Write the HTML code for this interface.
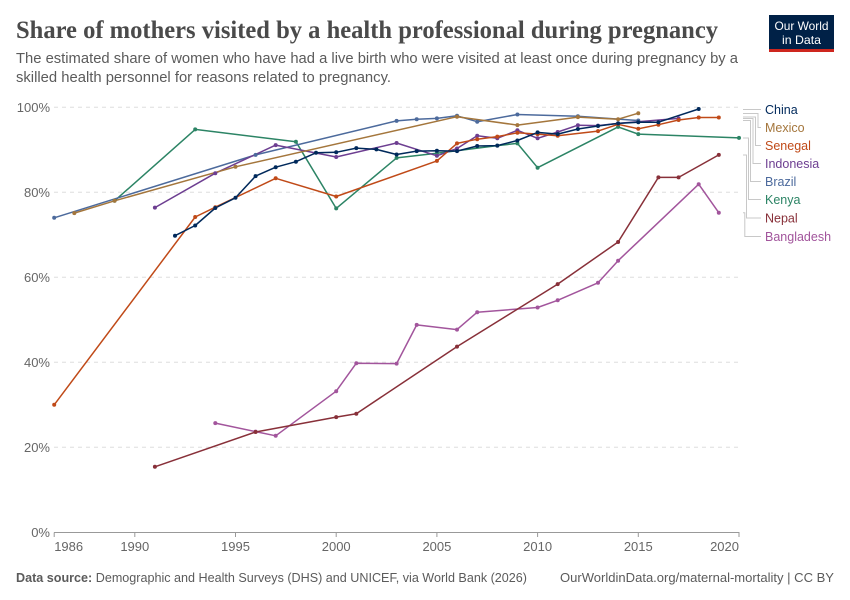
<!DOCTYPE html>
<html>
<head>
<meta charset="utf-8">
<style>
  html,body{margin:0;padding:0;background:#fff;}
  svg{display:block;}
  text{font-family:"Liberation Sans",Arial,sans-serif;}
</style>
</head>
<body>
<svg width="850" height="600" viewBox="0 0 850 600" xmlns="http://www.w3.org/2000/svg">
  <rect x="0" y="0" width="850" height="600" fill="#fff"/>

  <!-- Title -->
  <text x="16" y="38" style="font-family:'Liberation Serif','Times New Roman',serif;font-weight:bold;font-size:25px" fill="#4a4a4a" textLength="702" lengthAdjust="spacingAndGlyphs">Share of mothers visited by a health professional during pregnancy</text>
  <!-- Subtitle -->
  <text x="16" y="63" font-size="14.5" fill="#5b5b5b" textLength="722" lengthAdjust="spacingAndGlyphs">The estimated share of women who have had a live birth who were visited at least once during pregnancy by a</text>
  <text x="16" y="82" font-size="14.5" fill="#5b5b5b" textLength="375" lengthAdjust="spacingAndGlyphs">skilled health personnel for reasons related to pregnancy.</text>

  <!-- Logo -->
  <rect x="769" y="15" width="65" height="37" fill="#002147"/>
  <rect x="769" y="49" width="65" height="3" fill="#ce261e"/>
  <text x="801.5" y="30" font-size="12" fill="#fff" text-anchor="middle" textLength="54" lengthAdjust="spacingAndGlyphs">Our World</text>
  <text x="801.5" y="44" font-size="12" fill="#fff" text-anchor="middle" textLength="39" lengthAdjust="spacingAndGlyphs">in Data</text>

  <!-- Gridlines -->
  <g stroke="#dddddd" stroke-width="1" stroke-dasharray="4,4">
    <line x1="54" y1="107.3" x2="739" y2="107.3"/>
    <line x1="54" y1="192.3" x2="739" y2="192.3"/>
    <line x1="54" y1="277.3" x2="739" y2="277.3"/>
    <line x1="54" y1="362.3" x2="739" y2="362.3"/>
    <line x1="54" y1="447.3" x2="739" y2="447.3"/>
  </g>
  <!-- Y labels -->
  <g font-size="13" fill="#666" text-anchor="end">
    <text x="50" y="112">100%</text>
    <text x="50" y="197">80%</text>
    <text x="50" y="282">60%</text>
    <text x="50" y="367">40%</text>
    <text x="50" y="452">20%</text>
    <text x="50" y="537">0%</text>
  </g>
  <!-- X axis -->
  <line x1="54" y1="532.5" x2="739.5" y2="532.5" stroke="#999" stroke-width="1"/>
  <g stroke="#999" stroke-width="1">
    <line x1="54.2" y1="532.5" x2="54.2" y2="537"/>
    <line x1="134.8" y1="532.5" x2="134.8" y2="537"/>
    <line x1="235.5" y1="532.5" x2="235.5" y2="537"/>
    <line x1="336.2" y1="532.5" x2="336.2" y2="537"/>
    <line x1="436.9" y1="532.5" x2="436.9" y2="537"/>
    <line x1="537.6" y1="532.5" x2="537.6" y2="537"/>
    <line x1="638.3" y1="532.5" x2="638.3" y2="537"/>
    <line x1="739" y1="532.5" x2="739" y2="537"/>
  </g>
  <g font-size="13" fill="#666" text-anchor="middle">
    <text x="54.2" y="551" text-anchor="start">1986</text>
    <text x="134.8" y="551">1990</text>
    <text x="235.5" y="551">1995</text>
    <text x="336.2" y="551">2000</text>
    <text x="436.9" y="551">2005</text>
    <text x="537.6" y="551">2010</text>
    <text x="638.3" y="551">2015</text>
    <text x="739" y="551" text-anchor="end">2020</text>
  </g>

  <!-- Series -->
  <g fill="none" stroke-width="1.5" stroke-linejoin="round">
    <polyline stroke="#a2559c" points="215.3,423.1 255.6,431.6 275.7,435.8 336.2,391.2 356.3,363.2 396.6,363.6 416.7,324.9 457,329.6 477.2,312.2 537.6,307.5 557.7,300.3 598,282.8 618.1,260.7 698.7,184.2 718.8,212.7"/>
    <polyline stroke="#883039" points="154.9,466.8 255.6,432 336.2,417.1 356.3,413.7 457,346.6 557.7,284.1 618.1,242 658.4,177.4 678.6,177.4 718.8,154.9"/>
    <polyline stroke="#2c8465" points="114.6,200.8 195.2,129.4 295.9,141.7 336.2,208.4 396.6,157.9 436.9,153.2 497.3,145.6 517.4,143.4 537.6,167.7 618.1,126.9 638.3,134.1 739,137.9"/>
    <polyline stroke="#4c6a9c" points="54.2,217.8 255.6,154.9 396.6,120.9 416.7,119.2 436.9,118.4 457,115.8 477.2,121.7 517.4,114.5 577.9,116.2 638.3,120.5"/>
    <polyline stroke="#6d3e91" points="154.9,207.6 215.3,173.2 275.7,145.1 336.2,157 396.6,143 436.9,155.8 457,148.5 477.2,135.8 497.3,138.3 517.4,130.3 537.6,138.3 557.7,132 577.9,125.2 598,125.6 618.1,123.4 678.6,118.4"/>
    <polyline stroke="#c04a18" points="54.2,404.8 195.2,217 215.3,207.2 275.7,178.3 336.2,196.5 436.9,160.9 457,143.4 477.2,139.2 497.3,136.6 517.4,132.8 537.6,134.1 557.7,135.8 598,131.1 618.1,124.3 638.3,128.8 658.4,124.7 678.6,120 698.7,117.5 718.8,117.5"/>
    <polyline stroke="#a4763c" points="74.3,213.1 114.6,200.8 235.5,166.8 457,116.7 517.4,125.1 577.9,117.1 618.1,119.2 638.3,113.2"/>
    <polyline stroke="#00295b" points="175,235.7 195.2,225.5 215.3,208 235.5,197.8 255.6,176.1 275.7,167.2 295.9,161.7 316,152.8 336.2,152.3 356.3,148.1 376.4,149.4 396.6,154.5 416.7,151.1 436.9,150.7 457,151.1 477.2,146 497.3,145.6 517.4,140.5 537.6,132.4 557.7,134.1 577.9,129 598,126 618.1,123.4 638.3,122.2 658.4,122.2 698.7,109"/>
  </g>

  <!-- Markers -->
  <g fill="#a2559c">
    <circle cx="215.3" cy="423.1" r="2"/><circle cx="255.6" cy="431.6" r="2"/><circle cx="275.7" cy="435.8" r="2"/><circle cx="336.2" cy="391.2" r="2"/><circle cx="356.3" cy="363.2" r="2"/><circle cx="396.6" cy="363.6" r="2"/><circle cx="416.7" cy="324.9" r="2"/><circle cx="457" cy="329.6" r="2"/><circle cx="477.2" cy="312.2" r="2"/><circle cx="537.6" cy="307.5" r="2"/><circle cx="557.7" cy="300.3" r="2"/><circle cx="598" cy="282.8" r="2"/><circle cx="618.1" cy="260.7" r="2"/><circle cx="698.7" cy="184.2" r="2"/><circle cx="718.8" cy="212.7" r="2"/>
  </g>
  <g fill="#883039">
    <circle cx="154.9" cy="466.8" r="2"/><circle cx="255.6" cy="432" r="2"/><circle cx="336.2" cy="417.1" r="2"/><circle cx="356.3" cy="413.7" r="2"/><circle cx="457" cy="346.6" r="2"/><circle cx="557.7" cy="284.1" r="2"/><circle cx="618.1" cy="242" r="2"/><circle cx="658.4" cy="177.4" r="2"/><circle cx="678.6" cy="177.4" r="2"/><circle cx="718.8" cy="154.9" r="2"/>
  </g>
  <g fill="#2c8465">
    <circle cx="114.6" cy="200.8" r="2"/><circle cx="195.2" cy="129.4" r="2"/><circle cx="295.9" cy="141.7" r="2"/><circle cx="336.2" cy="208.4" r="2"/><circle cx="396.6" cy="157.9" r="2"/><circle cx="436.9" cy="153.2" r="2"/><circle cx="497.3" cy="145.6" r="2"/><circle cx="517.4" cy="143.4" r="2"/><circle cx="537.6" cy="167.7" r="2"/><circle cx="618.1" cy="126.9" r="2"/><circle cx="638.3" cy="134.1" r="2"/><circle cx="739" cy="137.9" r="2"/>
  </g>
  <g fill="#4c6a9c">
    <circle cx="54.2" cy="217.8" r="2"/><circle cx="255.6" cy="154.9" r="2"/><circle cx="396.6" cy="120.9" r="2"/><circle cx="416.7" cy="119.2" r="2"/><circle cx="436.9" cy="118.4" r="2"/><circle cx="457" cy="115.8" r="2"/><circle cx="477.2" cy="121.7" r="2"/><circle cx="517.4" cy="114.5" r="2"/><circle cx="577.9" cy="116.2" r="2"/><circle cx="638.3" cy="120.5" r="2"/>
  </g>
  <g fill="#6d3e91">
    <circle cx="154.9" cy="207.6" r="2"/><circle cx="215.3" cy="173.2" r="2"/><circle cx="275.7" cy="145.1" r="2"/><circle cx="336.2" cy="157" r="2"/><circle cx="396.6" cy="143" r="2"/><circle cx="436.9" cy="155.8" r="2"/><circle cx="457" cy="148.5" r="2"/><circle cx="477.2" cy="135.8" r="2"/><circle cx="497.3" cy="138.3" r="2"/><circle cx="517.4" cy="130.3" r="2"/><circle cx="537.6" cy="138.3" r="2"/><circle cx="557.7" cy="132" r="2"/><circle cx="577.9" cy="125.2" r="2"/><circle cx="598" cy="125.6" r="2"/><circle cx="618.1" cy="123.4" r="2"/><circle cx="678.6" cy="118.4" r="2"/>
  </g>
  <g fill="#c04a18">
    <circle cx="54.2" cy="404.8" r="2"/><circle cx="195.2" cy="217" r="2"/><circle cx="215.3" cy="207.2" r="2"/><circle cx="275.7" cy="178.3" r="2"/><circle cx="336.2" cy="196.5" r="2"/><circle cx="436.9" cy="160.9" r="2"/><circle cx="457" cy="143.4" r="2"/><circle cx="477.2" cy="139.2" r="2"/><circle cx="497.3" cy="136.6" r="2"/><circle cx="517.4" cy="132.8" r="2"/><circle cx="537.6" cy="134.1" r="2"/><circle cx="557.7" cy="135.8" r="2"/><circle cx="598" cy="131.1" r="2"/><circle cx="618.1" cy="124.3" r="2"/><circle cx="638.3" cy="128.8" r="2"/><circle cx="658.4" cy="124.7" r="2"/><circle cx="678.6" cy="120" r="2"/><circle cx="698.7" cy="117.5" r="2"/><circle cx="718.8" cy="117.5" r="2"/>
  </g>
  <g fill="#a4763c">
    <circle cx="74.3" cy="213.1" r="2"/><circle cx="114.6" cy="200.8" r="2"/><circle cx="235.5" cy="166.8" r="2"/><circle cx="457" cy="116.7" r="2"/><circle cx="517.4" cy="125.1" r="2"/><circle cx="577.9" cy="117.1" r="2"/><circle cx="618.1" cy="119.2" r="2"/><circle cx="638.3" cy="113.2" r="2"/>
  </g>
  <g fill="#00295b">
    <circle cx="175" cy="235.7" r="2"/><circle cx="195.2" cy="225.5" r="2"/><circle cx="215.3" cy="208" r="2"/><circle cx="235.5" cy="197.8" r="2"/><circle cx="255.6" cy="176.1" r="2"/><circle cx="275.7" cy="167.2" r="2"/><circle cx="295.9" cy="161.7" r="2"/><circle cx="316" cy="152.8" r="2"/><circle cx="336.2" cy="152.3" r="2"/><circle cx="356.3" cy="148.1" r="2"/><circle cx="376.4" cy="149.4" r="2"/><circle cx="396.6" cy="154.5" r="2"/><circle cx="416.7" cy="151.1" r="2"/><circle cx="436.9" cy="150.7" r="2"/><circle cx="457" cy="151.1" r="2"/><circle cx="477.2" cy="146" r="2"/><circle cx="497.3" cy="145.6" r="2"/><circle cx="517.4" cy="140.5" r="2"/><circle cx="537.6" cy="132.4" r="2"/><circle cx="557.7" cy="134.1" r="2"/><circle cx="577.9" cy="129" r="2"/><circle cx="598" cy="126" r="2"/><circle cx="618.1" cy="123.4" r="2"/><circle cx="638.3" cy="122.2" r="2"/><circle cx="658.4" cy="122.2" r="2"/><circle cx="698.7" cy="109" r="2"/>
  </g>

  <!-- Legend connectors -->
  <g fill="none" stroke="#c8c8c8" stroke-width="1">
    <polyline points="743,109.5 761,109.5"/>
    <polyline points="743,113.5 758,113.5 758,127.5 761,127.5"/>
    <polyline points="743,117 755.5,117 755.5,145.5 761,145.5"/>
    <polyline points="743,118.5 753,118.5 753,163.5 761,163.5"/>
    <polyline points="743,120.5 750.5,120.5 750.5,181.5 761,181.5"/>
    <polyline points="743,138 748.5,138 748.5,199.5 761,199.5"/>
    <polyline points="743,155 746.5,155 746.5,218 761,218"/>
    <polyline points="743,212.7 744.8,212.7 744.8,236.5 761,236.5"/>
  </g>
  <!-- Legend labels -->
  <g font-size="12.5">
    <text x="765" y="114" fill="#00295b">China</text>
    <text x="765" y="132" fill="#a4763c">Mexico</text>
    <text x="765" y="150" fill="#c04a18">Senegal</text>
    <text x="765" y="168" fill="#6d3e91">Indonesia</text>
    <text x="765" y="186" fill="#4c6a9c">Brazil</text>
    <text x="765" y="204" fill="#2c8465">Kenya</text>
    <text x="765" y="222.5" fill="#883039">Nepal</text>
    <text x="765" y="241" fill="#a2559c">Bangladesh</text>
  </g>

  <!-- Footer -->
  <text x="16" y="582" font-size="12.5" fill="#5b5b5b" textLength="511" lengthAdjust="spacingAndGlyphs"><tspan font-weight="bold">Data source:</tspan> Demographic and Health Surveys (DHS) and UNICEF, via World Bank (2026)</text>
  <text x="834" y="582" font-size="12.5" fill="#5b5b5b" text-anchor="end" textLength="274" lengthAdjust="spacingAndGlyphs">OurWorldinData.org/maternal-mortality | CC BY</text>
</svg>
</body>
</html>
